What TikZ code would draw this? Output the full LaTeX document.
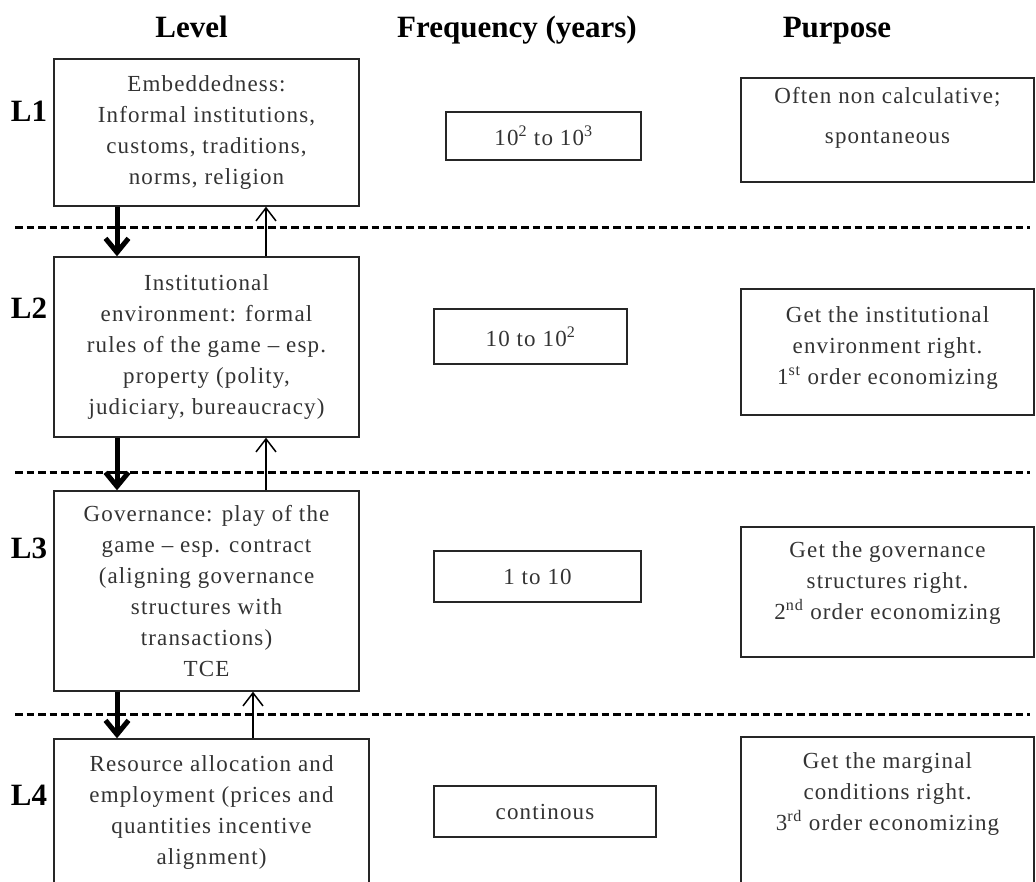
\documentclass[tikz,border=0pt]{standalone}
\usepackage{fontspec}
\setmainfont{Liberation Serif}[LetterSpace=5]
\newfontfamily\headfam{Liberation Serif}
\usetikzlibrary{arrows.meta}
\newcommand\bodyfont{\fontsize{23}{31}\selectfont}
\newcommand\headfont{\headfam\fontsize{31}{36}\selectfont\bfseries}
\begin{document}
\begin{tikzpicture}[x=1pt,y=-1pt,
  box/.style={draw=black!85, line width=1.4pt, inner sep=0pt, align=center,
              font=\bodyfont, text=black!80},
  txt/.style={inner sep=0pt, align=center, font=\bodyfont, text=black!80},
  head/.style={inner sep=0pt, anchor=base, font=\headfont},
  lvl/.style={inner sep=0pt, font=\headfont},
  sep/.style={line width=3pt, dash pattern=on 7.5pt off 4pt},
  down/.style={line width=5pt, -{Straight Barb[length=14pt,width=23pt]}},
  up/.style={line width=1.5pt, -{Straight Barb[length=13pt,width=20pt]}}]
\useasboundingbox (0,0) rectangle (1036,882);

% column headings
\node[head] (hLevel) at (191.5,38) {Level};
\node[head] (hFreq)  at (517,38)   {Frequency (years)};
\node[head] (hPurp)  at (837,38)   {Purpose};

% level labels
\node[lvl] (l1) at (29,111) {L1};
\node[lvl] (l2) at (29,308) {L2};
\node[lvl] (l3) at (29,548) {L3};
\node[lvl] (l4) at (29,795) {L4};

% level boxes
\node[box, minimum width=305pt, minimum height=147pt] (L1) at (206.5,132.5)
  {Embeddedness:\\ Informal institutions,\\ customs, traditions,\\ norms, religion};
\node[box, minimum width=305pt, minimum height=180pt] (L2) at (206.5,347)
  {Institutional\\ environment: formal\\ rules of the game -- esp.\\ property (polity,\\ judiciary, bureaucracy)};
\node[box, minimum width=305pt, minimum height=200pt] (L3) at (206.5,591)
  {Governance: play of the\\ game -- esp. contract\\ (aligning governance\\ structures with\\ transactions)\\ TCE};
\node[box, minimum width=315pt, minimum height=147pt] (L4) at (211.5,812.5)
  {Resource allocation and\\ employment (prices and\\ quantities incentive\\ alignment)};

% frequency boxes
\node[box, minimum width=195pt, minimum height=48pt] (F1) at (543.5,136)
  {10\textsuperscript{2} to 10\textsuperscript{3}};
\node[box, minimum width=193pt, minimum height=55pt] (F2) at (530.5,336.5)
  {10 to 10\textsuperscript{2}};
\node[box, minimum width=207pt, minimum height=51pt] (F3) at (537.5,576.5)
  {1 to 10};
\node[box, minimum width=222pt, minimum height=51pt] (F4) at (545,811.5)
  {continous};

% purpose boxes and their texts
\node[box, minimum width=293pt, minimum height=104pt] (P1) at (887.5,130) {};
\node[box, minimum width=293pt, minimum height=126pt] (P2) at (887.5,352) {};
\node[box, minimum width=293pt, minimum height=130pt] (P3) at (887.5,592) {};
\node[box, minimum width=293pt, minimum height=163pt] (P4) at (887.5,818.5) {};
\node[txt] (P1t) at (887.5,117.5) {Often non calculative;\\[9pt] spontaneous};
\node[txt] (P2t) at (887.5,348.5)
  {Get the institutional\\ environment right.\\ 1\textsuperscript{st} order economizing};
\node[txt] (P3t) at (887.5,583)
  {Get the governance\\ structures right.\\ 2\textsuperscript{nd} order economizing};
\node[txt] (P4t) at (887.5,794)
  {Get the marginal\\ conditions right.\\ 3\textsuperscript{rd} order economizing};

% dashed separators between levels
\coordinate (s1a) at (15,228);  \coordinate (s1b) at (1030,228);
\coordinate (s2a) at (15,472);  \coordinate (s2b) at (1030,472);
\coordinate (s3a) at (15,714);  \coordinate (s3b) at (1030,714);
\draw[sep] (s1a) -- (s1b);
\draw[sep] (s2a) -- (s2b);
\draw[sep] (s3a) -- (s3b);

% arrow columns
\coordinate (xd) at (117,0);
\coordinate (xu) at (266,0);
\coordinate (xu4) at (253,0);

% downward constraints and upward feedback
\draw[down] (L1.south -| xd) -- (L2.north -| xd);
\draw[down] (L2.south -| xd) -- (L3.north -| xd);
\draw[down] (L3.south -| xd) -- (L4.north -| xd);
\draw[up] (L2.north -| xu) -- (L1.south -| xu);
\draw[up] (L3.north -| xu) -- (L2.south -| xu);
\draw[up] (L4.north -| xu4) -- (L3.south -| xu4);
\end{tikzpicture}
\end{document}
